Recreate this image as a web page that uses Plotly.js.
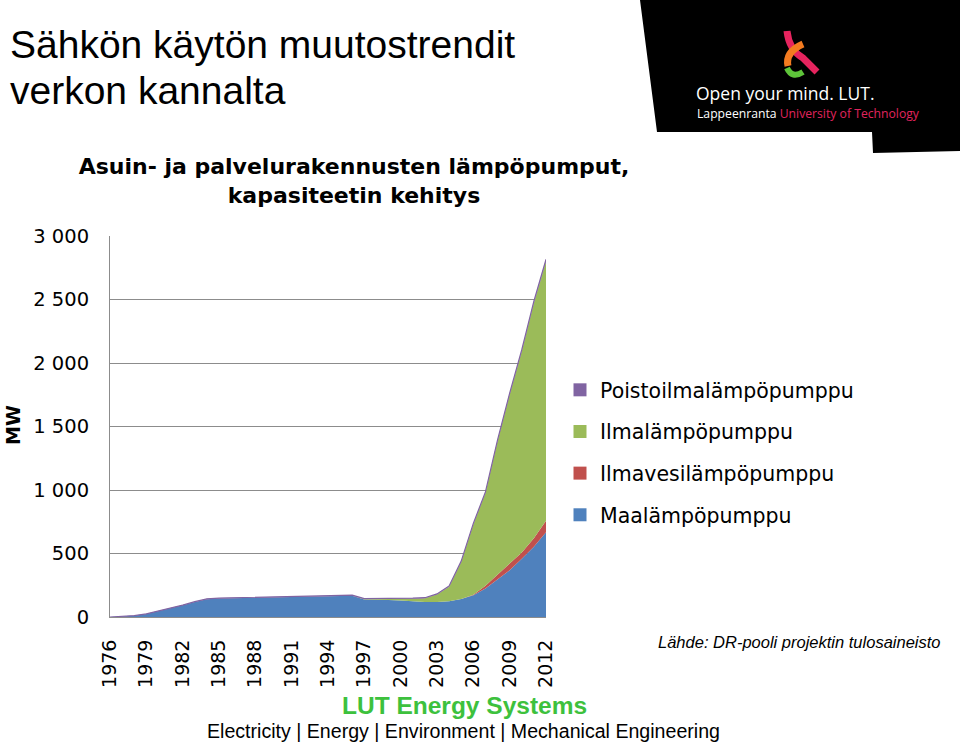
<!DOCTYPE html>
<html><head><meta charset="utf-8">
<script src="https://cdn.plot.ly/plotly-3.0.1.min.js"></script>
<style>html,body{margin:0;padding:0;background:#fff;overflow:hidden}#chart{width:960px;height:744px}</style>
</head><body><div id="chart"></div>
<script>
// ---- data (MW) ----
const years = [1976,1977,1978,1979,1980,1981,1982,1983,1984,1985,1986,1987,1988,1989,1990,1991,1992,1993,1994,1995,1996,1997,1998,1999,2000,2001,2002,2003,2004,2005,2006,2007,2008,2009,2010,2011,2012];
const maalampo   = [0,3,10,24,45,68,92,118,140,146,148,150,152,154,156,158,160,162,164,166,168,138,137,134,129,122,118,118,125,142,172,224,297,368,458,553,668];
const ilmavesi   = [0,0,0,0,0,0,0,0,0,0,0,0,0,0,0,0,0,0,0,0,0,0,0,0,0,0,0,0,0,0,4,22,37,53,50,68,90];
const ilmalampo  = [0,0,0,0,0,0,0,0,0,0,0,0,0,0,0,0,0,0,0,0,0,3,4,8,14,22,29,59,114,291,553,730,1051,1331,1585,1852,2042];
const poisto     = [0,0,1,1,2,2,2,3,3,3,3,3,3,3,3,3,3,3,3,4,4,4,4,4,4,4,5,5,6,7,8,9,10,11,12,14,16];
const seriesNames = ['Maalämpöpumppu','Ilmavesilämpöpumppu','Ilmalämpöpumppu','Poistoilmalämpöpumppu'];
const yTickVals = [0,500,1000,1500,2000,2500,3000];
const yTickText = ['0','500','1 000','1 500','2 000','2 500','3 000'];
const xTickVals = [1976,1979,1982,1985,1988,1991,1994,1997,2000,2003,2006,2009,2012];

// ---- styling ----
const colors = ['#4f81bd','#c0504d','#9bbb59','#8064a2'];
const seriesData = [maalampo, ilmavesi, ilmalampo, poisto];
const M = {l:110, r:414, t:236, b:127};
const PW = 960 - M.l - M.r, PH = 744 - M.t - M.b;
const fx = px => (px - M.l) / PW;
const fy = py => (744 - M.b - py) / PH;
const grid = '#8c8c8c';
const lab = 'DejaVu Sans, Verdana, sans-serif';
const arial = 'Liberation Sans, Arial, sans-serif';

const traces = [];
seriesData.forEach((d, i) => {
  traces.push({
    x: years, y: d, type: 'scatter', mode: 'lines', stackgroup: 'one',
    name: seriesNames[i], showlegend: false, hoverinfo: 'x+y+name',
    line: {width: i === 3 ? 1.2 : 0, color: colors[i], shape: 'linear'},
    fillcolor: colors[i]
  });
});
for (let i = 3; i >= 0; i--) {
  traces.push({
    x: [null], y: [null], type: 'scatter', mode: 'markers', name: seriesNames[i],
    legendgroup: 'g' + i, showlegend: true,
    marker: {symbol: 'square', size: 13, color: colors[i]}
  });
}

function pathOf(segs) {
  return segs.map(s => s[0] + s.slice(1).map(p => fx(p[0]) + ',' + fy(p[1])).join(' ')).join(' ');
}

const shapes = [
  {type: 'path', xref: 'paper', yref: 'paper', layer: 'above',
   path: pathOf([['M',[640,0]],['L',[960,0]],['L',[960,151]],['L',[873,153]],['L',[872,132]],['L',[657,132]]]) + ' Z',
   fillcolor: '#000', line: {width: 0}},
  {type: 'path', xref: 'paper', yref: 'paper', layer: 'above',
   path: pathOf([['M',[787,31]],['Q',[789,50],[803,58]],['L',[817,72]]]),
   line: {color: '#e6245e', width: 7}},
  {type: 'path', xref: 'paper', yref: 'paper', layer: 'above',
   path: pathOf([['M',[803,44]],['Q',[785,52],[788,66]]]),
   line: {color: '#f47b20', width: 7}},
  {type: 'path', xref: 'paper', yref: 'paper', layer: 'above',
   path: pathOf([['M',[787,68]],['Q',[792,79],[803,72]]]),
   line: {color: '#5ec43a', width: 6}}
];

const annotations = [
  {text: 'Sähkön käytön muutostrendit', x: fx(8), y: fy(44), xanchor: 'left', yanchor: 'middle',
   font: {family: arial, size: 39, color: '#000'}},
  {text: 'verkon kannalta', x: fx(8), y: fy(91), xanchor: 'left', yanchor: 'middle',
   font: {family: arial, size: 39, color: '#000'}},
  {text: 'Open your mind. LUT.', x: fx(694), y: fy(93), xanchor: 'left', yanchor: 'middle',
   font: {family: 'Open Sans, sans-serif', size: 17.5, color: '#fff'}},
  {text: 'Lappeenranta <span style="color:#e0245e">University of Technology</span>', x: fx(695), y: fy(114), xanchor: 'left', yanchor: 'middle',
   font: {family: 'Open Sans, sans-serif', size: 12.2, color: '#fff'}},
  {text: '<b>MW</b>', x: fx(13), y: fy(425), xanchor: 'center', yanchor: 'middle', textangle: -90,
   font: {family: lab, size: 19, color: '#000'}},
  {text: '<i>Lähde: DR-pooli projektin tulosaineisto</i>', x: fx(799), y: fy(642), xanchor: 'center', yanchor: 'middle',
   font: {family: arial, size: 16.5, color: '#000'}},
  {text: '<b>LUT Energy Systems</b>', x: fx(464), y: fy(705), xanchor: 'center', yanchor: 'middle',
   font: {family: arial, size: 24.5, color: '#3dc13d'}},
  {text: 'Electricity | Energy | Environment | Mechanical Engineering', x: fx(463), y: fy(731), xanchor: 'center', yanchor: 'middle',
   font: {family: arial, size: 19.6, color: '#000'}}
].map(a => Object.assign({xref: 'paper', yref: 'paper', showarrow: false}, a));

const layout = {
  width: 960, height: 744, margin: M,
  paper_bgcolor: '#fff', plot_bgcolor: '#fff',
  title: {text: '<b>Asuin- ja palvelurakennusten lämpöpumput,<br>kapasiteetin kehitys</b>',
          x: 354/960, xanchor: 'center', xref: 'container', y: 1 - 174/744, yanchor: 'middle', yref: 'container',
          font: {family: lab, size: 22, color: '#000'}},
  xaxis: {range: [1976, 2012], tickvals: xTickVals, ticktext: xTickVals.map(String), tickangle: -90,
          showgrid: false, zeroline: false, showline: true, linecolor: grid, linewidth: 1, ticks: '',
          ticklabelstandoff: 14, tickfont: {family: lab, size: 19, color: '#000'}, fixedrange: true},
  yaxis: {range: [0, 3000], tickvals: yTickVals, ticktext: yTickText,
          showgrid: true, gridcolor: grid, gridwidth: 1, zeroline: false, showline: true, linecolor: grid, linewidth: 1,
          ticks: '', ticklabelstandoff: 16, tickfont: {family: lab, size: 19.5, color: '#000'}, fixedrange: true},
  legend: {x: fx(560), y: fy(370), xanchor: 'left', yanchor: 'top', traceorder: 'grouped', tracegroupgap: 12,
           font: {family: lab, size: 20.5, color: '#000'}, bgcolor: 'rgba(0,0,0,0)', itemwidth: 30},
  shapes: shapes, annotations: annotations, hovermode: false
};

Plotly.newPlot('chart', traces, layout, {displayModeBar: false, staticPlot: true});
</script></body></html>
